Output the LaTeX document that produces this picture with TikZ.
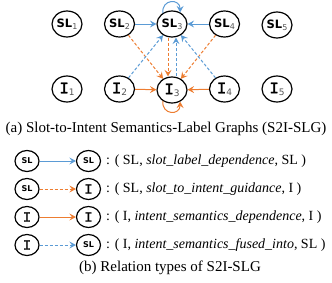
\documentclass[tikz,border=0pt]{standalone}
\usepackage{fontspec}
\setmainfont{Liberation Serif}
\newfontfamily\slfont{DejaVu Sans}
\newfontfamily\ifont[FakeBold=1.5]{Liberation Mono}
\usetikzlibrary{arrows.meta,shapes.geometric}
\definecolor{myblue}{HTML}{5B9BD5}
\definecolor{myorange}{HTML}{ED7D31}
\definecolor{subgray}{HTML}{555555}
\newcommand{\SLl}[1]{{\slfont\bfseries\fontsize{11.5}{11.5}\selectfont SL\raisebox{-2pt}{\fontsize{8}{8}\mdseries\color{subgray}\selectfont #1}}}
\newcommand{\Il}[1]{{\ifont\fontsize{16}{16}\selectfont I\raisebox{-2pt}{\slfont\fontsize{9}{9}\mdseries\color{subgray}\selectfont #1}}}
\newcommand{\SLs}{{\slfont\bfseries\fontsize{8}{8}\selectfont SL}}
\newcommand{\Is}{{\ifont\fontsize{14}{14}\selectfont I}}
\begin{document}
\begin{tikzpicture}[x=1pt,y=-1pt,
  gnode/.style={draw,line width=1.2pt,ellipse,minimum width=30pt,minimum height=26pt,inner sep=0pt},
  lnode/.style={draw,line width=1.2pt,ellipse,minimum width=24pt,minimum height=21pt,inner sep=0pt},
  arr/.style={line width=1pt,-{Stealth[length=6.5pt,width=7pt,inset=2.5pt]}},
  dsh/.style={dash pattern=on 3pt off 2pt},
  captext/.style={font=\fontsize{15}{15}\selectfont},
  leg/.style={font=\fontsize{14}{14}\selectfont,anchor=west,inner sep=0pt}]
\useasboundingbox (0,0) rectangle (332,282);
% top graph nodes
\node[gnode] (SL1) at (67,24) {\SLl{1}};
\node[gnode] (SL2) at (119.5,24) {\SLl{2}};
\node[gnode] (SL3) at (172,24) {\SLl{3}};
\node[gnode] (SL4) at (224.5,24) {\SLl{4}};
\node[gnode] (SL5) at (277,25) {\SLl{5}};
\node[gnode] (I1) at (67,89) {\Il{1}};
\node[gnode] (I2) at (119.5,89) {\Il{2}};
\node[gnode] (I3) at (172,90) {\Il{3}};
\node[gnode] (I4) at (224.5,89) {\Il{4}};
\node[gnode] (I5) at (277,89) {\Il{5}};
% solid edges
\draw[arr,myblue] (SL2) -- (SL3);
\draw[arr,myblue] (SL4) -- (SL3);
\draw[arr,myblue] (SL3.130) to[out=95,in=90,looseness=2.1] (SL3.55);
\draw[arr,myorange] (I2) -- (I3);
\draw[arr,myorange] (I4) -- (I3);
\draw[arr,myorange] (I3.230) to[out=265,in=270,looseness=2.1] (I3.305);
% dashed edges
\draw[arr,dsh,myorange] (SL2) -- (I3);
\draw[arr,dsh,myorange] (SL4) -- (I3);
\draw[arr,dsh,myorange] ([xshift=-4pt]SL3.south) -- ([xshift=-4pt]I3.north);
\draw[arr,dsh,myblue] (I2) -- (SL3);
\draw[arr,dsh,myblue] (I4) -- (SL3);
\draw[arr,dsh,myblue] ([xshift=4pt]I3.north) -- ([xshift=4pt]SL3.south);
\node[captext] (capa) at (166,129) {(a) Slot-to-Intent Semantics-Label Graphs (S2I-SLG)};
% legend
\node[lnode] (a1) at (27,161) {\SLs};
\node[lnode] (b1) at (88.5,161) {\SLs};
\node[lnode] (a2) at (27,189) {\SLs};
\node[lnode] (b2) at (88.5,189) {\Is};
\node[lnode] (a3) at (27,217) {\Is};
\node[lnode] (b3) at (88.5,217) {\Is};
\node[lnode] (a4) at (27,245) {\Is};
\node[lnode] (b4) at (88.5,245) {\SLs};
\draw[arr,myblue] (a1) -- (b1);
\draw[arr,dsh,myorange] (a2) -- (b2);
\draw[arr,myorange] (a3) -- (b3);
\draw[arr,dsh,myblue] (a4) -- (b4);
\node[leg] (t1) at (106,161) {: ( SL, \textit{slot\_label\_dependence}, SL )};
\node[leg] (t2) at (106,189) {: ( SL, \textit{slot\_to\_intent\_guidance}, I )};
\node[leg] (t3) at (106,217) {: ( I, \textit{intent\_semantics\_dependence}, I )};
\node[leg] (t4) at (106,245) {: ( I, \textit{intent\_semantics\_fused\_into}, SL )};
\node[captext] (capb) at (170,268) {(b) Relation types of S2I-SLG};
\end{tikzpicture}
\end{document}
